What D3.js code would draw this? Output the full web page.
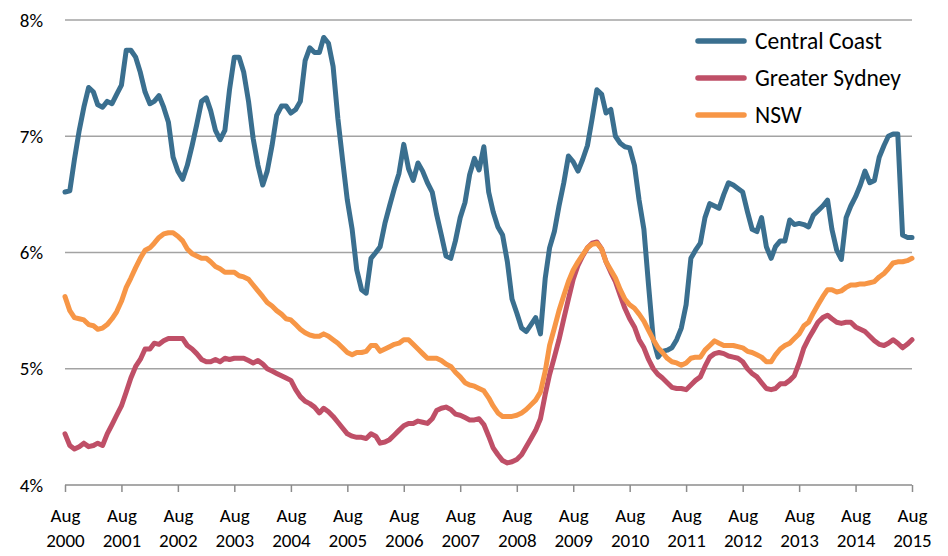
<!DOCTYPE html>
<html>
<head>
<meta charset="utf-8">
<script src="https://cdn.jsdelivr.net/npm/d3@7"></script>
<style>
  html, body { margin: 0; padding: 0; background: #fff; }
  svg { display: block; font-family: Carlito, Calibri, Lato, "Open Sans", sans-serif; }
</style>
</head>
<body>
<svg id="chart" width="948" height="556"></svg>
<script>
// Monthly series Aug 2000 .. Aug 2015 (181 months)
const startMonth = "2000-08";
const endMonth = "2015-08";

const centralCoast = [
  6.52,6.53,6.80,7.05,7.25,7.42,7.38,7.27,7.25,7.30,7.28,7.36,7.44,7.74,7.74,7.68,7.55,7.38,7.28,7.30,
  7.35,7.25,7.12,6.82,6.70,6.63,6.75,6.92,7.10,7.30,7.33,7.22,7.05,6.97,7.05,7.40,7.68,7.68,7.55,7.30,
  6.98,6.75,6.58,6.70,6.92,7.18,7.26,7.26,7.20,7.23,7.30,7.65,7.76,7.72,7.72,7.85,7.80,7.60,7.15,6.80,
  6.45,6.20,5.85,5.68,5.65,5.95,6.00,6.05,6.25,6.40,6.55,6.68,6.93,6.72,6.62,6.77,6.70,6.60,6.52,6.33,
  6.15,5.97,5.95,6.10,6.30,6.43,6.67,6.81,6.71,6.91,6.52,6.35,6.22,6.15,5.92,5.60,5.48,5.35,5.32,5.38,
  5.44,5.30,5.78,6.04,6.18,6.40,6.60,6.83,6.78,6.70,6.80,6.92,7.15,7.40,7.36,7.20,7.23,7.00,6.94,6.91,
  6.90,6.75,6.45,6.20,5.72,5.25,5.10,5.15,5.16,5.18,5.25,5.35,5.55,5.95,6.02,6.08,6.30,6.42,6.40,6.38,
  6.50,6.60,6.58,6.55,6.52,6.35,6.20,6.18,6.30,6.05,5.95,6.05,6.10,6.10,6.28,6.24,6.25,6.24,6.22,6.32,
  6.36,6.40,6.45,6.20,6.02,5.94,6.30,6.40,6.48,6.58,6.70,6.60,6.62,6.82,6.92,7.00,7.02,7.02,6.15,6.13,
  6.13
];

const greaterSydney = [
  4.44,4.34,4.31,4.33,4.36,4.33,4.34,4.36,4.34,4.44,4.52,4.60,4.68,4.80,4.92,5.02,5.08,5.17,5.17,5.22,
  5.21,5.24,5.26,5.26,5.26,5.26,5.20,5.17,5.13,5.08,5.06,5.06,5.08,5.06,5.09,5.08,5.09,5.09,5.09,5.07,
  5.05,5.07,5.04,5.00,4.98,4.96,4.94,4.92,4.90,4.82,4.76,4.72,4.70,4.67,4.62,4.66,4.63,4.59,4.54,4.49,
  4.44,4.42,4.41,4.41,4.40,4.44,4.42,4.36,4.37,4.39,4.43,4.47,4.51,4.53,4.53,4.55,4.54,4.53,4.57,4.64,
  4.66,4.67,4.65,4.61,4.60,4.58,4.56,4.56,4.57,4.52,4.42,4.32,4.26,4.21,4.19,4.20,4.22,4.26,4.33,4.40,
  4.47,4.57,4.78,4.95,5.10,5.25,5.43,5.60,5.77,5.89,5.97,6.04,6.08,6.09,6.03,5.92,5.83,5.75,5.63,5.52,
  5.43,5.36,5.25,5.18,5.08,5.00,4.95,4.92,4.88,4.84,4.83,4.83,4.82,4.86,4.90,4.93,5.02,5.10,5.13,5.14,
  5.13,5.11,5.10,5.09,5.06,5.00,4.96,4.93,4.88,4.83,4.82,4.83,4.87,4.87,4.90,4.94,5.05,5.18,5.26,5.33,
  5.40,5.44,5.46,5.43,5.40,5.39,5.40,5.40,5.36,5.34,5.32,5.28,5.24,5.21,5.20,5.22,5.25,5.22,5.18,5.21,
  5.25
];

const nsw = [
  5.62,5.50,5.44,5.43,5.42,5.38,5.37,5.34,5.35,5.38,5.43,5.49,5.58,5.70,5.78,5.87,5.95,6.02,6.04,6.08,
  6.13,6.16,6.17,6.17,6.14,6.10,6.03,5.99,5.97,5.95,5.95,5.92,5.88,5.86,5.83,5.83,5.83,5.80,5.79,5.77,
  5.72,5.67,5.62,5.57,5.54,5.50,5.47,5.43,5.42,5.38,5.34,5.31,5.29,5.28,5.28,5.30,5.28,5.25,5.22,5.18,
  5.14,5.12,5.14,5.14,5.15,5.20,5.20,5.15,5.17,5.19,5.21,5.22,5.25,5.25,5.21,5.17,5.13,5.09,5.09,5.09,
  5.07,5.04,5.02,4.97,4.93,4.88,4.86,4.85,4.83,4.81,4.75,4.68,4.62,4.59,4.59,4.59,4.60,4.62,4.65,4.69,
  4.73,4.80,4.98,5.20,5.35,5.50,5.63,5.75,5.85,5.92,5.98,6.04,6.07,6.08,6.03,5.92,5.85,5.78,5.68,5.60,
  5.55,5.52,5.47,5.41,5.33,5.25,5.18,5.14,5.09,5.06,5.05,5.03,5.05,5.09,5.10,5.10,5.16,5.20,5.24,5.22,
  5.20,5.20,5.20,5.19,5.18,5.15,5.14,5.12,5.10,5.06,5.06,5.12,5.17,5.20,5.22,5.26,5.30,5.37,5.40,5.48,
  5.55,5.62,5.68,5.68,5.66,5.67,5.70,5.72,5.72,5.73,5.73,5.74,5.75,5.79,5.82,5.86,5.91,5.92,5.92,5.93,
  5.95
];

const seriesNames = ["Central Coast", "Greater Sydney", "NSW"];
const seriesColors = ["#3a6f8f", "#bf4f67", "#f79646"];
const yTicks = [4, 5, 6, 7, 8];
const xTickYears = ["2000","2001","2002","2003","2004","2005","2006","2007","2008","2009","2010","2011","2012","2013","2014","2015"];
const xTickMonth = "Aug";

const parseMonth = d3.timeParse("%Y-%m");
const months = d3.timeMonth.range(parseMonth(startMonth), d3.timeMonth.offset(parseMonth(endMonth), 1));

const svg = d3.select("#chart");
const margin = { left: 65, right: 36, top: 20, bottom: 71 };
const W = 948, H = 556;
const FONT = "Carlito, Calibri, Lato, sans-serif";

const x = d3.scaleTime()
  .domain([parseMonth(startMonth), parseMonth(endMonth)])
  .range([margin.left, W - margin.right]);
const y = d3.scaleLinear().domain([4, 8]).range([H - margin.bottom, margin.top]);

// gridlines
svg.append("g")
  .selectAll("line")
  .data(yTicks.filter(d => d !== 4))
  .join("line")
  .attr("x1", x.range()[0]).attr("x2", x.range()[1])
  .attr("y1", d => y(d)).attr("y2", d => y(d))
  .attr("stroke", "#a3a3a3").attr("stroke-width", 1.5);

// y axis labels
const yAxis = d3.axisLeft(y).tickValues(yTicks).tickFormat(d => d + "%").tickSize(0).tickPadding(0);
const gy = svg.append("g").attr("transform", `translate(${margin.left - 22},0)`).call(yAxis);
gy.select(".domain").remove();
gy.selectAll("text").attr("font-size", 19).attr("fill", "#000").attr("font-family", FONT);

// x axis
const tickDates = xTickYears.map(yr => parseMonth(yr + "-08"));
const xAxis = d3.axisBottom(x).tickValues(tickDates).tickSize(7).tickFormat("");
const gx = svg.append("g").attr("transform", `translate(0,${y(4)})`).call(xAxis);
gx.select(".domain").attr("stroke", "#8c8c8c").attr("stroke-width", 1.5).attr("d", `M${x.range()[0]},0H${x.range()[1]}`);
gx.selectAll(".tick line").attr("stroke", "#8c8c8c").attr("stroke-width", 1.5);
const lbl = gx.selectAll(".tick").append("text")
  .attr("fill", "#000").attr("font-size", 19).attr("text-anchor", "middle")
  .attr("font-family", FONT);
lbl.append("tspan").attr("x", 0).attr("y", 37).text(xTickMonth);
lbl.append("tspan").attr("x", 0).attr("y", 62).text((d, i) => xTickYears[i]);

// lines
const allSeries = [centralCoast, greaterSydney, nsw];
const line = d3.line().x((d, i) => x(months[i])).y(d => y(d));
[0, 1, 2].forEach(k => {
  svg.append("path")
    .datum(allSeries[k])
    .attr("d", line)
    .attr("fill", "none")
    .attr("stroke", seriesColors[k])
    .attr("stroke-width", 5)
    .attr("stroke-linejoin", "round")
    .attr("stroke-linecap", "round");
});

// legend
const lg = svg.append("g").attr("transform", "translate(698,41)");
seriesNames.forEach((name, i) => {
  const row = lg.append("g").attr("transform", `translate(0,${i * 37})`);
  row.append("line").attr("x1", 0).attr("x2", 46).attr("y1", 0).attr("y2", 0)
    .attr("stroke", seriesColors[i]).attr("stroke-width", 5.5).attr("stroke-linecap", "round");
  row.append("text").attr("x", 57).attr("y", 0).attr("dy", "0.35em")
    .attr("font-size", 23.5).attr("fill", "#000").attr("font-family", FONT).text(name);
});
</script>
</body>
</html>
